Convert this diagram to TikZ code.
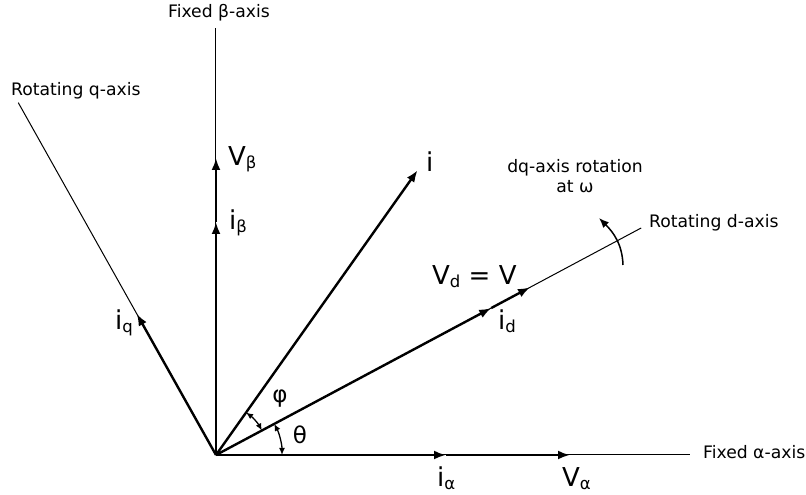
\documentclass[tikz,border=0pt]{standalone}
\usepackage{fontspec}
\setmainfont{DejaVu Sans}
\usepackage{tikz}
\usetikzlibrary{arrows.meta,positioning}
\newcommand{\sbs}[1]{\raisebox{-3pt}{\fontsize{16.5}{16.5}\selectfont #1}}

\begin{document}
\begin{tikzpicture}[
x=1pt, y=1pt,
axis/.style={line width=1pt},
vec/.style={line width=2.4pt, -{Latex[length=12pt, width=9pt]}},
angarr/.style={line width=1.3pt, {Latex[length=7pt, width=6pt]}-{Latex[length=7pt, width=6pt]}},
rotarr/.style={line width=1.5pt, -{Latex[length=10pt, width=8pt]}},
small/.style={inner sep=0pt, font=\fontsize{17.2}{20}\selectfont},
big/.style={inner sep=0pt, anchor=base west, font=\fontsize{26}{28}\selectfont},
greek/.style={inner sep=0pt, font=\fontsize{23}{25}\selectfont}
]
\useasboundingbox (-216,-40) rectangle (590,455);
% axes
\coordinate (O) at (0,0);
\coordinate (alphaEnd) at (474,0);
\coordinate (betaEnd) at (0,427);
\coordinate (dEnd) at (28.1:482);
\coordinate (qEnd) at (119.3:404);
\draw[axis] (O) -- (alphaEnd);
\draw[axis] (O) -- (betaEnd);
\draw[axis] (O) -- (dEnd);
\draw[axis] (O) -- (qEnd);
\node[small, anchor=base] (betaLbl) at (3,437) {Fixed β-axis};
\node[small, anchor=base west] (qLbl) at (-205,359) {Rotating q-axis};
\node[small, anchor=base west] (dLbl) at (433,227) {Rotating d-axis};
\node[small, anchor=base west] (alphaLbl) at (487,-4) {Fixed α-axis};
\node[small, align=center, anchor=base] (rotLbl) at (359,262) {dq-axis rotation\\at ω};
% vector tips
\coordinate (Ib) at (0,233);
\coordinate (Vb) at (0,297);
\coordinate (Ia) at (230,0);
\coordinate (Va) at (354,0);
\coordinate (Id) at (28.1:312);
\coordinate (Vd) at (28.1:356);
\coordinate (Iq) at (119.3:162);
\coordinate (I) at (54.7:349);
\draw[vec] (O) -- (Ib);
\draw[vec] (Ib) -- (Vb);
\draw[vec] (O) -- (Ia);
\draw[vec] (Ia) -- (Va);
\draw[vec] (O) -- (Id);
\draw[vec] (Id) -- (Vd);
\draw[vec] (O) -- (Iq);
\draw[vec] (O) -- (I);
% labels
\node[big] (VbLbl) at (12,289) {V\sbs{β}};
\node[big] (IbLbl) at (13,225) {i\sbs{β}};
\node[big] (ILbl) at (210,283) {i};
\node[big] (VdLbl) at (216,170) {V\sbs{d} = V};
\node[big] (IdLbl) at (282,125) {i\sbs{d}};
\node[big] (IqLbl) at (-101,125) {i\sbs{q}};
\node[big] (IaLbl) at (221,-32) {i\sbs{α}};
\node[big] (VaLbl) at (346,-32) {V\sbs{α}};
% angles and rotation
\coordinate (rotStart) at (407,190);
\coordinate (rotEnd) at (383,237);
\draw[angarr] (0:66) arc[start angle=0, end angle=28.1, radius=66];
\draw[angarr] (28.1:52) arc[start angle=28.1, end angle=54.7, radius=52];
\draw[rotarr] (rotStart) to[out=92, in=-45] (rotEnd);
\node[greek] (thetaLbl) at (84,20) {θ};
\node[greek] (phiLbl) at (64,56) {φ};
\end{tikzpicture}
\end{document}
